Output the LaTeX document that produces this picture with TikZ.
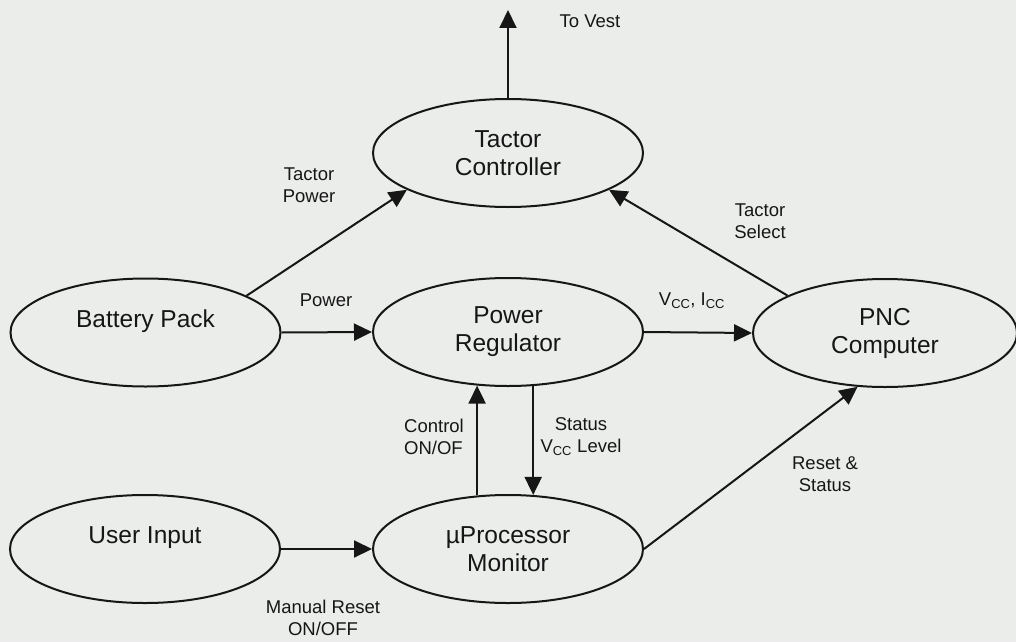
\documentclass[tikz,border=0pt]{standalone}
\usepackage{fontspec}
\setmainfont{Liberation Sans}
\usetikzlibrary{shapes.geometric,arrows.meta}
\definecolor{bg}{RGB}{235,237,235}
\definecolor{ink}{RGB}{22,22,22}
\begin{document}
\begin{tikzpicture}[x=1pt,y=-1pt,
  blob/.style={ellipse,draw=ink,line width=2pt,minimum width=270pt,minimum height=108pt,
    inner sep=0pt,align=center,font=\fontsize{24.5}{28}\selectfont,text=ink},
  oneline/.style={text depth=28pt},
  lbl/.style={font=\fontsize{18.5}{22}\selectfont,align=center,text=ink,inner sep=0pt},
  flow/.style={draw=ink,line width=2pt,-{Triangle[length=18pt,width=17pt]}}]
\fill[bg] (0,0) rectangle (1016,642);
\useasboundingbox (0,0) rectangle (1016,642);

\node[blob] (tc) at (508,153) {Tactor\\Controller};
\node[blob,oneline] (bp) at (145.5,332.5) {Battery Pack};
\node[blob] (pr) at (508,332) {Power\\Regulator};
\node[blob,minimum width=264pt] (pnc) at (885,333) {PNC\\Computer};
\node[blob,oneline] (ui) at (145,549) {User Input};
\node[blob] (mu) at (508,549) {µProcessor\\Monitor};

\coordinate (vest) at (508,10);
\draw[flow] (tc.north) -- (vest);
\draw[flow] (bp.20) -- (tc.200);
\draw[flow] (pnc.159) -- (tc.340);
\draw[flow] (bp.east) -- (pr.west);
\draw[flow] (pr.east) -- (pnc.west);
\draw[flow] (mu.120) -- (pr.240);
\draw[flow] (pr.295) -- (mu.65);
\draw[flow] (ui.east) -- (mu.west);
\draw[flow] (mu.east) -- (pnc.243);

\node[lbl] (lvest) at (590,21) {To Vest};
\node[lbl] (ltp) at (309,185) {Tactor\\Power};
\node[lbl] (lts) at (760,221) {Tactor\\Select};
\node[lbl] (lpow) at (326,300) {Power};
\node[lbl] (lvi) at (692,301) {V\textsubscript{CC}, I\textsubscript{CC}};
\node[lbl,align=left] (lcon) at (434,437) {Control\\ON/OF};
\node[lbl] (lst) at (581,437) {Status\\V\textsubscript{CC} Level};
\node[lbl] (lmr) at (323,618) {Manual Reset\\ON/OFF};
\node[lbl] (lrs) at (825,474) {Reset \&\\Status};
\end{tikzpicture}
\end{document}
